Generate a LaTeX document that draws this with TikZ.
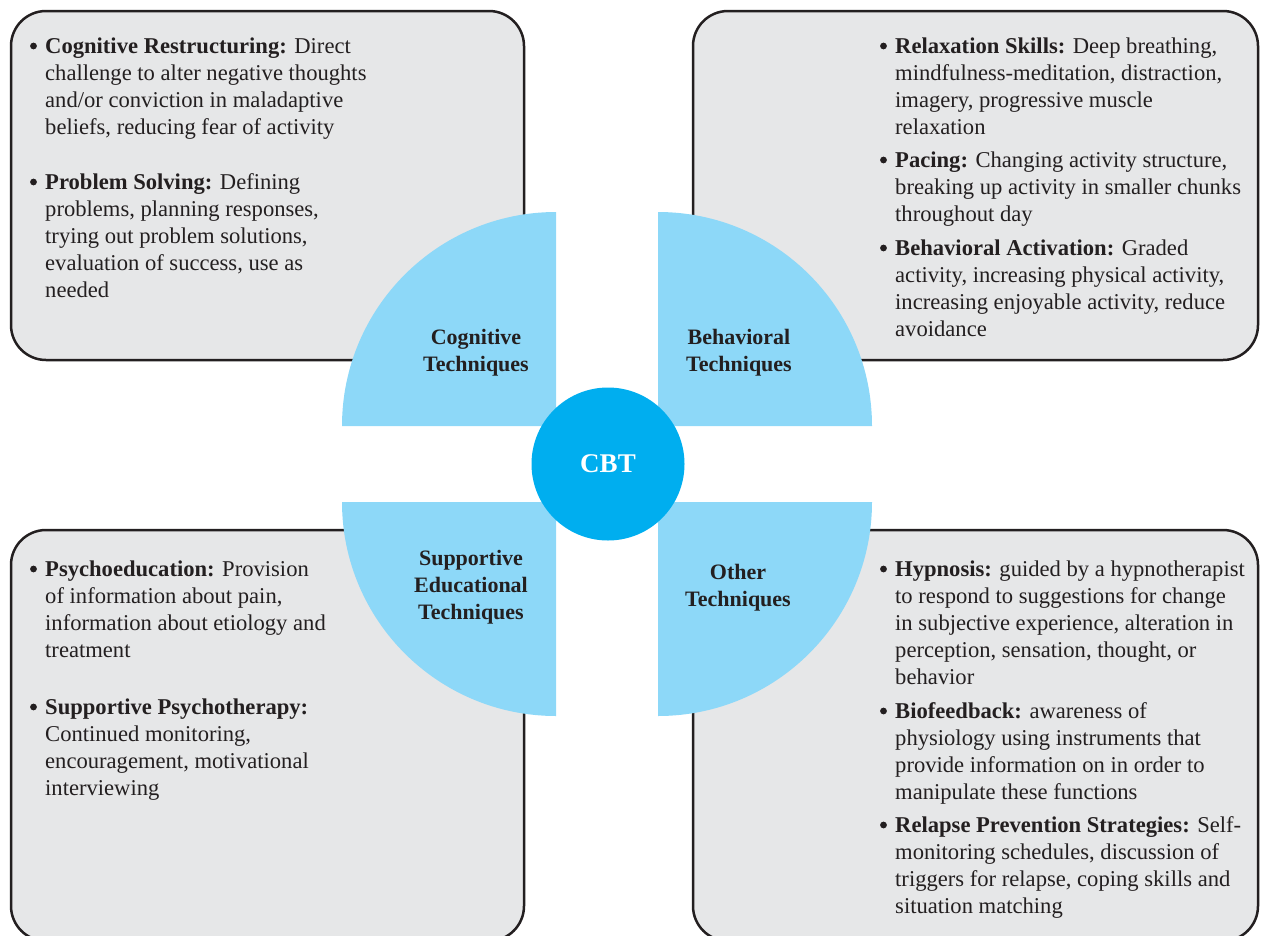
\documentclass[tikz,border=0pt]{standalone}
\usepackage{fontspec}
\setmainfont{Liberation Serif}
\definecolor{boxgray}{HTML}{E6E7E8}
\definecolor{edge}{HTML}{231F20}
\definecolor{quarterblue}{HTML}{8DD8F8}
\definecolor{cbtblue}{HTML}{00AEEF}
\newcommand{\itemtext}[2]{\parbox[t]{#1}{\raggedright #2}}
\begin{document}
\begin{tikzpicture}[x=1pt,y=-1pt,
  panel/.style={fill=boxgray, draw=edge, line width=2.5pt, rounded corners=35pt},
  quarter/.style={fill=quarterblue},
  itemnode/.style={anchor=base west, inner sep=0pt, text=edge, font=\fontsize{22.6}{27}\selectfont},
  bulletdot/.style={fill=edge},
  qlabel/.style={inner sep=0pt, align=center, text=edge, font=\fontsize{22}{27}\selectfont\bfseries},
  hub/.style={circle, fill=cbtblue, minimum size=153pt, inner sep=0pt, text=white, font=\fontsize{27}{30}\selectfont\bfseries}]
\useasboundingbox (0,0) rectangle (1261,935);
\clip (0,0) rectangle (1261,935);
% panels
\draw[panel] (11,11) rectangle (524,360);
\draw[panel] (693,11) rectangle (1258,360);
\draw[panel] (11,530) rectangle (524,941);
\draw[panel] (693,530) rectangle (1258,941);
% quarter discs
\fill[quarter] (556,426) -- (342,426) arc[start angle=180, end angle=270, radius=214] -- cycle;
\fill[quarter] (658,426) -- (658,212) arc[start angle=270, end angle=360, radius=214] -- cycle;
\fill[quarter] (556,502) -- (342,502) arc[start angle=180, end angle=90, radius=214] -- cycle;
\fill[quarter] (658,502) -- (872,502) arc[start angle=0, end angle=90, radius=214] -- cycle;
% hub
\node[hub] (cbt) at (608,464) {CBT};
% quarter labels
\node[qlabel] (cog) at (476,353) {Cognitive\\Techniques};
\node[qlabel] (beh) at (739,353) {Behavioral\\Techniques};
\node[qlabel] (sup) at (471,587) {Supportive\\Educational\\Techniques};
\node[qlabel] (oth) at (738,588) {Other\\Techniques};
% top left items
\node[itemnode] (tla) at (45,53) {\itemtext{470pt}{\textbf{Cognitive Restructuring:} Direct\\challenge to alter negative thoughts\\and/or conviction in maladaptive\\beliefs, reducing fear of activity}};
\node[itemnode] (tlb) at (45,189) {\itemtext{470pt}{\textbf{Problem Solving:} Defining\\problems, planning responses,\\trying out problem solutions,\\evaluation of success, use as\\needed}};
% top right items
\node[itemnode] (tra) at (895,53) {\itemtext{360pt}{\textbf{Relaxation Skills:} Deep breathing,\\mindfulness-meditation, distraction,\\imagery, progressive muscle\\relaxation}};
\node[itemnode] (trb) at (895,167) {\itemtext{360pt}{\textbf{Pacing:} Changing activity structure,\\breaking up activity in smaller chunks\\throughout day}};
\node[itemnode] (trc) at (895,255) {\itemtext{360pt}{\textbf{Behavioral Activation:} Graded\\activity, increasing physical activity,\\increasing enjoyable activity, reduce\\avoidance}};
% bottom left items
\node[itemnode] (bla) at (45,576) {\itemtext{470pt}{\textbf{Psychoeducation:} Provision\\of information about pain,\\information about etiology and\\treatment}};
\node[itemnode] (blb) at (45,714) {\itemtext{470pt}{\textbf{Supportive Psychotherapy:}\\Continued monitoring,\\encouragement, motivational\\interviewing}};
% bottom right items
\node[itemnode] (bra) at (895,576) {\itemtext{360pt}{\textbf{Hypnosis:} guided by a hypnotherapist\\to respond to suggestions for change\\in subjective experience, alteration in\\perception, sensation, thought, or\\behavior}};
\node[itemnode] (brb) at (895,718) {\itemtext{360pt}{\textbf{Biofeedback:} awareness of\\physiology using instruments that\\provide information on in order to\\manipulate these functions}};
\node[itemnode] (brc) at (895,832) {\itemtext{360pt}{\textbf{Relapse Prevention Strategies:} Self-\\monitoring schedules, discussion of\\triggers for relapse, coping skills and\\situation matching}};
% bullets
\foreach \n in {tla,tlb,tra,trb,trc,bla,blb,bra,brb,brc}
  \fill[bulletdot] ([xshift=-11.5pt,yshift=7pt]\n.base west) circle (3.4pt);
\end{tikzpicture}
\end{document}
